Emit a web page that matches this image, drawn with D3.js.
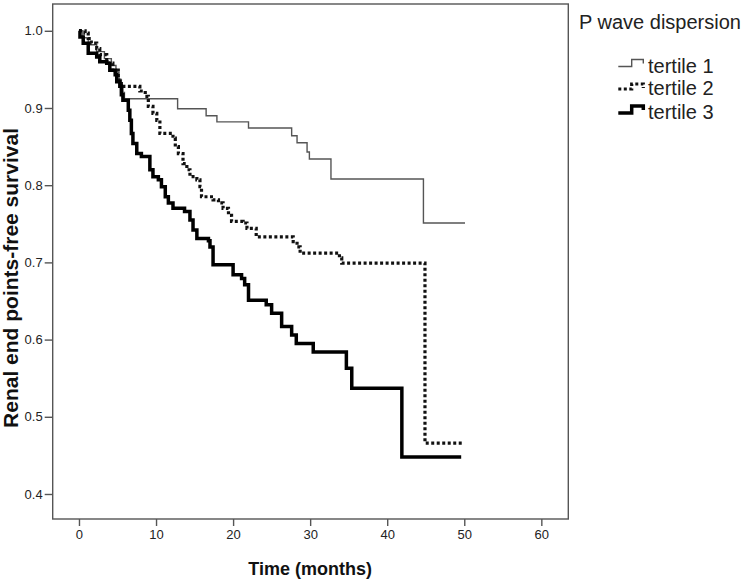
<!DOCTYPE html>
<html>
<head>
<meta charset="utf-8">
<script src="https://cdn.jsdelivr.net/npm/d3@7"></script>
<style>
  html, body { margin: 0; padding: 0; background: #fff; }
  svg { display: block; font-family: "Liberation Sans", Arial, sans-serif; }
</style>
</head>
<body>
<svg id="chart" width="746" height="582"></svg>
<script>
// ---- data (time in months, survival proportion after the step) ----
const seriesNames = ["tertile 1", "tertile 2", "tertile 3"];

const tertile1 = [
  [0, 1.0], [0.5, 0.991], [1.2, 0.982], [2.3, 0.973], [3.3, 0.964], [4.2, 0.955],
  [4.8, 0.946], [5.2, 0.937], [5.5, 0.928], [5.7, 0.92], [5.9, 0.912],
  [12.8, 0.899], [16.5, 0.890], [17.9, 0.882], [22.0, 0.874], [27.6, 0.864],
  [28.3, 0.855], [29.6, 0.843], [29.9, 0.834], [32.7, 0.808], [44.7, 0.751],
  [50.1, 0.751]
];

const tertile2 = [
  [0, 1.0], [0.8, 0.997], [1.2, 0.990], [1.6, 0.984], [2.3, 0.977], [2.7, 0.969],
  [3.6, 0.958], [4.4, 0.949], [5.1, 0.936], [5.5, 0.928], [7.9, 0.922],
  [8.6, 0.915], [9.0, 0.902], [9.6, 0.893], [10.1, 0.884], [10.5, 0.867],
  [12.2, 0.861], [12.5, 0.850], [12.9, 0.841], [13.5, 0.828], [14.0, 0.820],
  [14.4, 0.811], [15.3, 0.807], [15.7, 0.798], [15.9, 0.785], [17.4, 0.781],
  [18.1, 0.777], [18.7, 0.770], [19.4, 0.761], [19.8, 0.753], [21.3, 0.751],
  [21.8, 0.744], [23.0, 0.733], [27.8, 0.727], [28.3, 0.72], [28.7, 0.712],
  [33.8, 0.706], [34.1, 0.699], [44.9, 0.466], [49.7, 0.466]
];

const tertile3 = [
  [0, 1.0], [0.13, 0.992], [0.55, 0.984], [1.2, 0.971], [2.3, 0.966], [2.7, 0.960],
  [3.6, 0.958], [4.0, 0.949], [4.7, 0.943], [4.9, 0.934], [5.3, 0.928],
  [5.5, 0.917], [5.7, 0.910], [6.4, 0.897], [6.6, 0.884], [6.8, 0.867],
  [7.0, 0.854], [7.5, 0.841], [8.1, 0.837], [9.2, 0.820], [9.6, 0.811],
  [10.3, 0.807], [10.7, 0.798], [11.2, 0.785], [11.6, 0.777], [12.2, 0.770],
  [13.7, 0.766], [14.4, 0.755], [14.8, 0.742], [15.3, 0.731], [16.8, 0.728],
  [17.0, 0.720], [17.4, 0.697], [20.0, 0.684], [21.1, 0.679], [21.5, 0.671],
  [22.0, 0.651], [24.3, 0.645], [25.0, 0.634], [26.3, 0.617], [27.6, 0.606],
  [28.2, 0.595], [30.4, 0.584], [34.7, 0.563], [35.4, 0.537], [41.9, 0.448],
  [49.6, 0.448]
];

const xTicks = [0, 10, 20, 30, 40, 50, 60];
const yTicks = [0.4, 0.5, 0.6, 0.7, 0.8, 0.9, 1.0];
const xTitle = "Time (months)";
const yTitle = "Renal end points-free survival";
const legendTitle = "P wave dispersion";

// ---- layout ----
const svg = d3.select("#chart");
const frame = { left: 52.7, top: 4, right: 568.3, bottom: 519 };

const x = d3.scaleLinear().domain([-3.41, 63.5]).range([frame.left, frame.right]);
const y = d3.scaleLinear().domain([0.3676, 1.0347]).range([frame.bottom, frame.top]);

const axisColor = "#555";
const textColor = "#222";

// frame
svg.append("rect")
  .attr("x", frame.left).attr("y", frame.top)
  .attr("width", frame.right - frame.left).attr("height", frame.bottom - frame.top)
  .attr("fill", "none").attr("stroke", axisColor).attr("stroke-width", 1.4);

// axes
const xAxis = d3.axisBottom(x).tickValues(xTicks).tickFormat(d3.format("d")).tickSize(7).tickPadding(4);
const gx = svg.append("g").attr("transform", `translate(0,${frame.bottom})`).call(xAxis);
const yAxis = d3.axisLeft(y).tickValues(yTicks).tickFormat(d3.format(".1f")).tickSize(8).tickPadding(2);
const gy = svg.append("g").attr("transform", `translate(${frame.left},0)`).call(yAxis);
[gx, gy].forEach(g => {
  g.select(".domain").remove();
  g.selectAll(".tick line").attr("stroke", axisColor).attr("stroke-width", 1.4);
  g.selectAll(".tick text").attr("fill", textColor)
    .style("font-family", '"Liberation Sans", Arial, sans-serif').style("font-size", "13px");
});

// axis titles
svg.append("text")
  .attr("x", (x(0) + x(60)) / 2).attr("y", 575)
  .attr("text-anchor", "middle").attr("font-weight", "bold").attr("font-size", 18)
  .attr("fill", "#111").text(xTitle);
svg.append("text")
  .attr("transform", `translate(18,${(123 + 433) / 2}) rotate(-90)`)
  .attr("text-anchor", "middle").attr("font-weight", "bold").attr("font-size", 21)
  .attr("fill", "#111").text(yTitle);

// curves
const line = d3.line().x(d => x(d[0])).y(d => y(d[1])).curve(d3.curveStepAfter);
const styles = [
  { stroke: "#555", width: 1.4, dash: null },
  { stroke: "#111", width: 3.2, dash: "3,2.5" },
  { stroke: "#000", width: 3.5, dash: null }
];
[tertile1, tertile2, tertile3].forEach((data, i) => {
  svg.append("path").datum(data)
    .attr("d", line)
    .attr("fill", "none")
    .attr("stroke", styles[i].stroke)
    .attr("stroke-width", styles[i].width)
    .attr("stroke-dasharray", styles[i].dash)
    .attr("stroke-linejoin", "miter")
    .attr("stroke-linecap", "butt");
});

// legend
svg.append("text").attr("x", 579).attr("y", 29)
  .attr("font-size", 20).attr("fill", textColor).text(legendTitle);
const legendRows = [66.5, 89, 113];
seriesNames.forEach((name, i) => {
  const base = legendRows[i];
  const h = i === 1 ? 5 : 7;
  const sym = [[618.3, base], [631.7, base], [631.7, base - h], [643.3, base - h], [643.3, base - h + 4]];
  svg.append("path")
    .attr("d", d3.line()(sym))
    .attr("fill", "none")
    .attr("stroke", styles[i].stroke)
    .attr("stroke-width", styles[i].width)
    .attr("stroke-dasharray", styles[i].dash);
  svg.append("text").attr("x", 648).attr("y", base + 6)
    .attr("font-size", 20).attr("fill", textColor).text(name);
});
</script>
</body>
</html>
